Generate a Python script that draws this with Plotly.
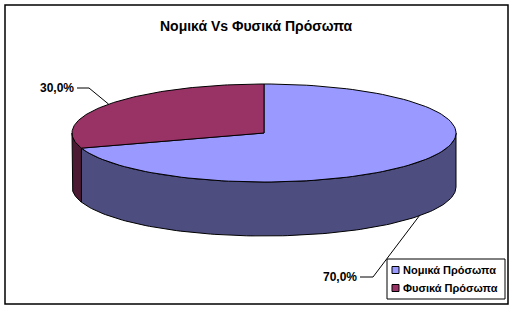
import numpy as np
import plotly.graph_objects as go

# ---- data ----
categories = ["Νομικά Πρόσωπα", "Φυσικά Πρόσωπα"]
values = [70.0, 30.0]
labels = ["70,0%", "30,0%"]
top_colors = ["#9999FF", "#993366"]
side_colors = ["#4D4D80", "#4D1A33"]
title = "Νομικά Vs Φυσικά Πρόσωπα"

W, H = 514, 310
cx, cy, rx, ry, depth = 264, 133, 192, 49, 54
FONT = "Liberation Sans, Arial, sans-serif"


def pt(theta_deg, dy=0.0):
    t = np.radians(theta_deg)
    return cx + rx * np.sin(t), cy - ry * np.cos(t) + dy


def arc(a, b, dy=0.0, n=120):
    th = np.linspace(a, b, n)
    xs, ys = pt(th, dy)
    return list(xs), list(ys)


fig = go.Figure()

total = sum(values)
bounds = []
acc = 0.0
for v in values:
    a = acc / total * 360
    acc += v
    b = acc / total * 360
    bounds.append((a, b))

# side faces (front half: 90..270 deg clockwise from 12 o'clock)
for i, (a, b) in enumerate(bounds):
    lo, hi = max(a, 90), min(b, 270)
    if hi <= lo:
        continue
    tx, ty = arc(lo, hi)
    bx, by = arc(hi, lo, depth)
    fig.add_trace(go.Scatter(x=tx + bx + [tx[0]], y=ty + by + [ty[0]], mode="lines",
                             fill="toself", fillcolor=side_colors[i],
                             line=dict(color="black", width=1), hoverinfo="skip",
                             showlegend=False))

# top faces
for i, (a, b) in enumerate(bounds):
    ax_, ay_ = arc(a, b)
    fig.add_trace(go.Scatter(x=[cx] + ax_ + [cx], y=[cy] + ay_ + [cy], mode="lines",
                             fill="toself", fillcolor=top_colors[i],
                             line=dict(color="black", width=1), hoverinfo="skip",
                             showlegend=False))

shapes = []
annotations = []

# data labels with leader lines
for i, (a, b) in enumerate(bounds):
    mid = (a + b) / 2
    front = 90 < mid < 270
    ex, ey = pt(mid, depth if front else 0)
    if front:
        lx, ly = 373, 277
        tx_end = 360
    else:
        lx, ly = 89, 88
        tx_end = 77
    fig.add_trace(go.Scatter(x=[ex, lx, tx_end], y=[ey, ly, ly], mode="lines",
                             line=dict(color="black", width=1), hoverinfo="skip",
                             showlegend=False))
    annotations.append(dict(x=tx_end - 1, y=ly, xref="x", yref="y", text="<b>%s</b>" % labels[i],
                            showarrow=False, xanchor="right", yanchor="middle",
                            font=dict(family=FONT, size=12, color="black")))

# title
annotations.append(dict(x=256.5, y=26, xref="x", yref="y", text="<b>%s</b>" % title,
                        showarrow=False, xanchor="center", yanchor="middle",
                        font=dict(family=FONT, size=14, color="black")))

# frame
shapes.append(dict(type="rect", x0=5, y0=5, x1=508, y1=304, xref="x", yref="y",
                   line=dict(color="black", width=1.5), fillcolor="rgba(0,0,0,0)"))

# legend
shapes.append(dict(type="rect", x0=387, y0=259, x1=505, y1=299, xref="x", yref="y",
                   line=dict(color="black", width=1), fillcolor="white"))
leg_y = [270, 288]
for i, c in enumerate(categories):
    yy = leg_y[i]
    shapes.append(dict(type="rect", x0=392, y0=yy - 3.5, x1=399, y1=yy + 3.5, xref="x", yref="y",
                       line=dict(color="black", width=1), fillcolor=top_colors[i]))
    annotations.append(dict(x=401, y=yy, xref="x", yref="y", text="<b>%s</b>" % c,
                            showarrow=False, xanchor="left", yanchor="middle",
                            font=dict(family=FONT, size=11, color="black")))

fig.update_layout(
    width=W, height=H, autosize=False,
    margin=dict(l=0, r=0, t=0, b=0, pad=0),
    paper_bgcolor="white", plot_bgcolor="white",
    xaxis=dict(range=[0, W], visible=False, fixedrange=True),
    yaxis=dict(range=[H, 0], visible=False, fixedrange=True),
    shapes=shapes, annotations=annotations, showlegend=False,
)

fig.write_html("out.html", config={"displayModeBar": False})
